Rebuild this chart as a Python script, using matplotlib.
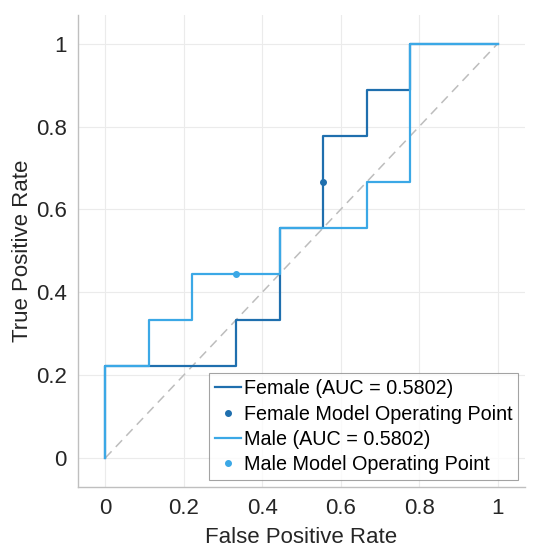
import matplotlib.pyplot as plt

plt.rcParams['font.family'] = ['Liberation Sans', 'DejaVu Sans']

# ROC curve vertices (step curves)
female_fpr = [0, 0, 0.3333, 0.3333, 0.4444, 0.4444, 0.5556, 0.5556, 0.6667, 0.6667, 0.7778, 0.7778, 1.0]
female_tpr = [0, 0.2222, 0.2222, 0.3333, 0.3333, 0.5556, 0.5556, 0.7778, 0.7778, 0.8889, 0.8889, 1.0, 1.0]
male_fpr = [0, 0, 0.1111, 0.1111, 0.2222, 0.2222, 0.4444, 0.4444, 0.6667, 0.6667, 0.7778, 0.7778, 1.0]
male_tpr = [0, 0.2222, 0.2222, 0.3333, 0.3333, 0.4444, 0.4444, 0.5556, 0.5556, 0.6667, 0.6667, 1.0, 1.0]

# operating points
female_op = (0.5556, 0.6667)
male_op = (0.3333, 0.4444)

female_auc = 0.5802
male_auc = 0.5802

ticks = [0, 0.2, 0.4, 0.6, 0.8, 1]
tick_labels = ["0", "0.2", "0.4", "0.6", "0.8", "1"]

female_color = "#1f6fae"
male_color = "#3ba8e6"

fig = plt.figure(figsize=(5.48, 5.49), dpi=100)
ax = fig.add_axes([0.142, 0.113, 0.816, 0.86])

ax.plot([0, 1], [0, 1], linestyle=(0, (6, 4)), color="#bdbdbd", linewidth=1.1)
ax.plot(female_fpr, female_tpr, color=female_color, linewidth=1.6,
        label="Female (AUC = %.4f)" % female_auc)
ax.plot(female_op[0], female_op[1], "o", color=female_color, markersize=4,
        label="Female Model Operating Point")
ax.plot(male_fpr, male_tpr, color=male_color, linewidth=1.6,
        label="Male (AUC = %.4f)" % male_auc)
ax.plot(male_op[0], male_op[1], "o", color=male_color, markersize=4,
        label="Male Model Operating Point")

ax.set_xlim(-0.07, 1.07)
ax.set_ylim(-0.07, 1.07)
ax.set_xticks(ticks)
ax.set_xticklabels(tick_labels)
ax.set_yticks(ticks)
ax.set_yticklabels(tick_labels)
ax.tick_params(length=0, labelsize=16, colors="#262626", pad=8)
ax.grid(True, color="#ebebeb", linewidth=0.8)
ax.set_axisbelow(True)
for side in ["top", "right"]:
    ax.spines[side].set_visible(False)
for side in ["left", "bottom"]:
    ax.spines[side].set_color("#bfbfbf")
    ax.spines[side].set_linewidth(1.0)

ax.set_xlabel("False Positive Rate", fontsize=16, color="#262626", labelpad=6)
ax.set_ylabel("True Positive Rate", fontsize=16, color="#262626", labelpad=2)

leg = ax.legend(loc="lower right", fontsize=14.2, frameon=True, fancybox=False,
                handlelength=1.3, handletextpad=0.15, borderpad=0.3,
                labelspacing=0.32, borderaxespad=0.35)
leg.get_frame().set_edgecolor("#8c8c8c")
leg.get_frame().set_linewidth(0.8)

fig.savefig("out.png", dpi=100)
